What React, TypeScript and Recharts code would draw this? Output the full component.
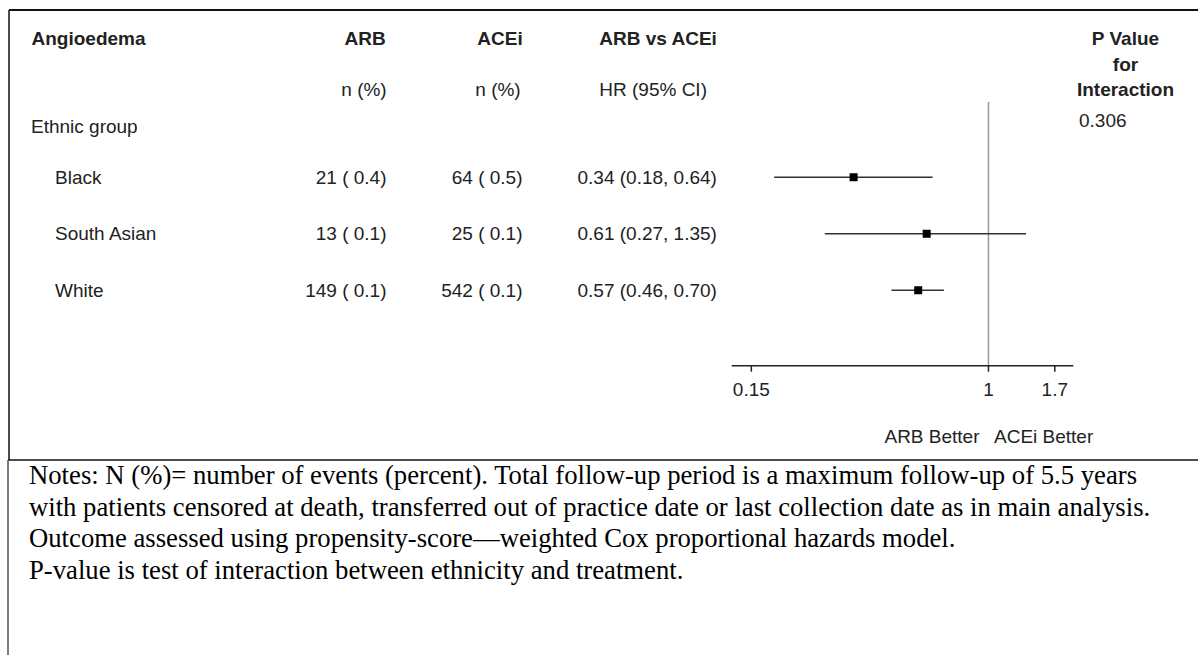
import React from "react";
import { ScatterChart, Scatter, XAxis, YAxis, ReferenceLine } from "recharts";

const groups = ["Black", "South Asian", "White"];
const arbEvents = [21, 13, 149];
const arbPct = [0.4, 0.1, 0.1];
const aceiEvents = [64, 25, 542];
const aceiPct = [0.5, 0.1, 0.1];
const hrValues = [0.34, 0.61, 0.57];
const ciLow = [0.18, 0.27, 0.46];
const ciHigh = [0.64, 1.35, 0.7];
const xTicks = [0.15, 1, 1.7];
const sectionLabel = "Ethnic group";
const pInteraction = "0.306";
const notes = [
  "Notes: N (%)= number of events (percent). Total follow-up period is a maximum follow-up of 5.5 years",
  "with patients censored at death, transferred out of practice date or last collection date as in main analysis.",
  "Outcome assessed using propensity-score\u2014weighted Cox proportional hazards model.",
  "P-value is test of interaction between ethnicity and treatment.",
];

const rows = groups.map((g, i) => ({
  name: g,
  row: i + 1,
  hr: hrValues[i],
  lo: ciLow[i],
  hi: ciHigh[i],
}));

const SANS = "'Liberation Sans', Arial, sans-serif";
const SERIF = "'Liberation Serif', 'Times New Roman', serif";
const TXT = "#222";
const FS = 19;

const RowTick = (props: any) => {
  const { y, payload } = props;
  const v = payload.value;
  if (v === 0) {
    return (
      <g fontFamily={SANS} fontSize={FS} fill={TXT}>
        <text x={31} y={y + 12}>{sectionLabel}</text>
        <text x={1079} y={y + 6.5}>{pInteraction}</text>
      </g>
    );
  }
  const i = v - 1;
  return (
    <g fontFamily={SANS} fontSize={FS} fill={TXT}>
      <text x={55} y={y + 6.5}>{groups[i]}</text>
      <text x={386.5} y={y + 6.5} textAnchor="end">{`${arbEvents[i]} ( ${arbPct[i].toFixed(1)})`}</text>
      <text x={522.5} y={y + 6.5} textAnchor="end">{`${aceiEvents[i]} ( ${aceiPct[i].toFixed(1)})`}</text>
      <text x={577.5} y={y + 6.5}>{`${hrValues[i].toFixed(2)} (${ciLow[i].toFixed(2)}, ${ciHigh[i].toFixed(2)})`}</text>
    </g>
  );
};

const XTick = (props: any) => {
  const { x, y, payload } = props;
  return (
    <text x={x} y={y + 22} textAnchor="middle" fontFamily={SANS} fontSize={FS} fill={TXT}>
      {String(payload.value)}
    </text>
  );
};

export default function App() {
  return (
    <div style={{ position: "relative", width: 1198, height: 655, background: "#fff", overflow: "hidden" }}>
      <style>{"body{margin:0;}"}</style>
      <div style={{ position: "absolute", left: 0, top: 0 }}>
        <ScatterChart
          width={1198}
          height={655}
          margin={{ top: 102, right: 124.7, bottom: 259.3, left: 730.7 }}
        >
          <XAxis
            type="number"
            dataKey="hr"
            scale="log"
            domain={[0.1282, 1.971]}
            allowDataOverflow
            ticks={xTicks}
            interval={0}
            height={30}
            tickSize={6}
            axisLine={{ stroke: "#222", strokeWidth: 1.5 }}
            tickLine={{ stroke: "#222", strokeWidth: 1.5 }}
            tick={<XTick />}
          />
          <YAxis
            type="number"
            dataKey="row"
            domain={[-1 / 3, 13 / 3]}
            allowDataOverflow
            reversed
            ticks={[0, 1, 2, 3]}
            interval={0}
            width={1}
            axisLine={false}
            tickLine={false}
            tick={<RowTick />}
          />
          <ReferenceLine x={1} stroke="#999" strokeWidth={1.5} />
          {rows.map((r) => (
            <ReferenceLine
              key={r.name}
              segment={[
                { x: r.lo, y: r.row },
                { x: r.hi, y: r.row },
              ]}
              stroke="#333"
              strokeWidth={1.5}
            />
          ))}
          <Scatter data={rows} shape="square" fill="#000" isAnimationActive={false} />
        </ScatterChart>
      </div>
      <svg
        width={1198}
        height={655}
        style={{ position: "absolute", left: 0, top: 0, pointerEvents: "none" }}
      >
        <line x1={9} y1={10} x2={1198} y2={10} stroke="#111" strokeWidth={1.8} />
        <line x1={9} y1={10} x2={9} y2={460} stroke="#111" strokeWidth={1.5} />
        <line x1={8} y1={460} x2={1198} y2={460} stroke="#111" strokeWidth={1.5} />
        <line x1={8} y1={460} x2={8} y2={655} stroke="#555" strokeWidth={1.5} />
        <g fontFamily={SANS} fontSize={FS} fill={TXT} fontWeight="bold">
          <text x={31.5} y={45}>Angioedema</text>
          <text x={385.7} y={45} textAnchor="end">ARB</text>
          <text x={522.7} y={45} textAnchor="end">ACEi</text>
          <text x={599.3} y={45}>ARB vs ACEi</text>
          <text x={1125.5} y={45} textAnchor="middle">P Value</text>
          <text x={1125.5} y={70.8} textAnchor="middle">for</text>
          <text x={1125.5} y={96} textAnchor="middle">Interaction</text>
        </g>
        <g fontFamily={SANS} fontSize={FS} fill={TXT}>
          <text x={386.7} y={95.5} textAnchor="end">n (%)</text>
          <text x={520.7} y={95.5} textAnchor="end">n (%)</text>
          <text x={599.3} y={95.5}>HR (95% CI)</text>
          <text x={979.5} y={442.7} textAnchor="end">ARB Better</text>
          <text x={994} y={442.7}>ACEi Better</text>
        </g>
        <g fontFamily={SERIF} fontSize={26.7} fill="#000">
          {notes.map((t, i) => (
            <text key={i} x={29} y={484 + i * 31.5}>
              {t}
            </text>
          ))}
        </g>
      </svg>
    </div>
  );
}
